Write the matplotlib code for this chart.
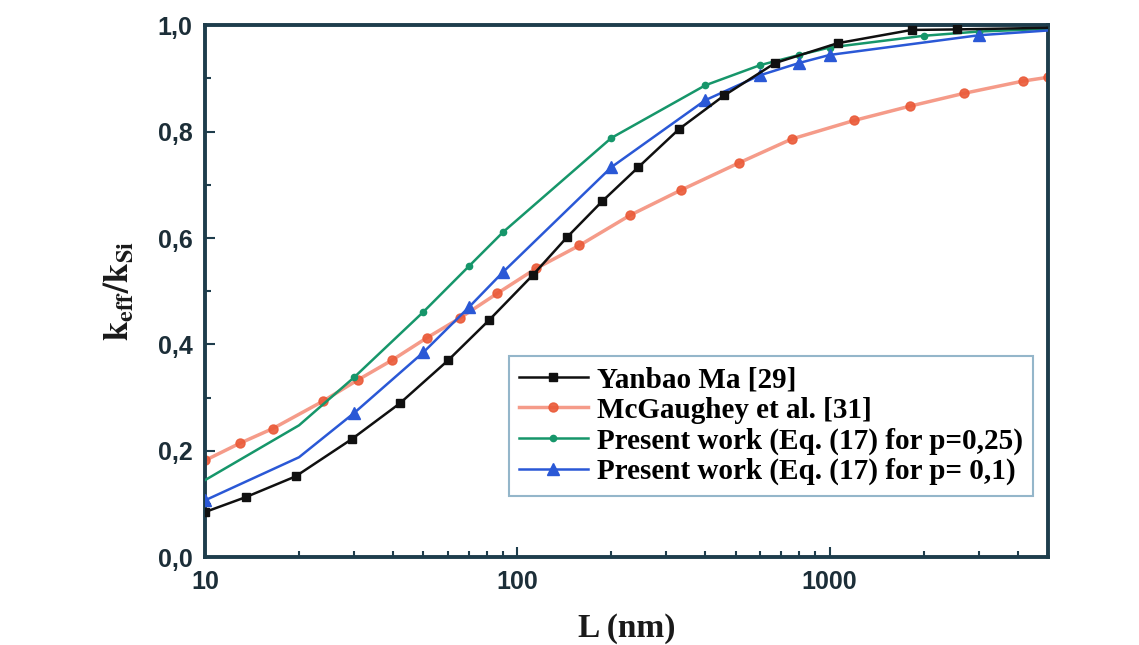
import matplotlib
matplotlib.use("Agg")
import matplotlib.pyplot as plt
from matplotlib.ticker import FixedLocator, FuncFormatter, LogLocator, MultipleLocator, NullFormatter

# thickness length L (nm) and normalised conductivity k_eff/k_Si
L_ma = [10, 13.5, 19.5, 29.5, 42, 60, 81, 112, 144, 187, 244, 330, 460, 670, 1060, 1830, 2560, 5000]
k_ma = [0.085, 0.113, 0.152, 0.222, 0.289, 0.370, 0.445, 0.530, 0.601, 0.669, 0.733, 0.805,
        0.868, 0.929, 0.966, 0.991, 0.992, 0.995]

L_mcg = [10, 12.9, 16.5, 23.8, 30.8, 39.6, 51.2, 65.3, 86.3, 115, 158, 230, 334, 512, 756,
         1200, 1815, 2700, 4170, 5000]
k_mcg = [0.182, 0.214, 0.242, 0.293, 0.333, 0.370, 0.412, 0.449, 0.496, 0.543, 0.586, 0.643,
         0.690, 0.741, 0.786, 0.821, 0.848, 0.872, 0.895, 0.902]

L_p25 = [10, 20, 30, 50, 70, 90, 200, 400, 600, 800, 1000, 2000, 3000, 5000]
k_p25 = [0.145, 0.248, 0.338, 0.461, 0.547, 0.611, 0.788, 0.887, 0.925, 0.944, 0.958, 0.980, 0.988, 0.993]

L_p01 = [10, 20, 30, 50, 70, 90, 200, 400, 600, 800, 1000, 3000, 5000]
k_p01 = [0.107, 0.188, 0.271, 0.385, 0.470, 0.536, 0.733, 0.859, 0.906, 0.929, 0.944, 0.981, 0.990]

labels = ["Yanbao Ma [29]", "McGaughey et al. [31]",
          "Present work (Eq. (17) for p=0,25)", "Present work (Eq. (17) for p= 0,1)"]

frame = "#1e3d4c"
plt.rcParams["mathtext.fontset"] = "stix"

fig = plt.figure(figsize=(11.39, 6.45), dpi=100)
ax = fig.add_axes([0.180, 0.136, 0.740, 0.825])

ax.plot(L_ma, k_ma, "-s", color="#101010", lw=1.8, ms=6, markevery=list(range(len(L_ma) - 1)),
        label=labels[0], zorder=4)
ax.plot(L_mcg, k_mcg, "-o", color="#f4907c", lw=2.5, ms=6.5, mfc="#ea5a38", mec="#ea5a38",
        alpha=0.9, label=labels[1], zorder=2)
ax.plot(L_p25, k_p25, "-o", color="#16966a", lw=1.8, ms=4.5, markevery=list(range(2, len(L_p25) - 1)),
        label=labels[2], zorder=3)
ax.plot(L_p01, k_p01, "-^", color="#2a58d6", lw=1.8, ms=8, markevery=[0] + list(range(2, len(L_p01) - 1)),
        label=labels[3], zorder=3)

ax.set_xscale("log")
ax.set_xlim(10, 5000)
ax.set_ylim(0, 1.0)

ax.xaxis.set_major_locator(FixedLocator([10, 100, 1000]))
ax.xaxis.set_major_formatter(FuncFormatter(lambda v, p: f"{v:.0f}"))
ax.xaxis.set_minor_locator(LogLocator(base=10, subs=range(2, 10)))
ax.xaxis.set_minor_formatter(NullFormatter())
ax.yaxis.set_major_locator(MultipleLocator(0.2))
ax.yaxis.set_minor_locator(MultipleLocator(0.1))
ax.yaxis.set_major_formatter(FuncFormatter(lambda v, p: f"{v:.1f}".replace(".", ",")))

ax.tick_params(which="both", direction="in", top=False, right=False, color=frame, width=1.5)
ax.tick_params(which="major", length=7, labelsize=18, labelcolor="#1c2e38", pad=9)
ax.tick_params(which="minor", length=4)
for lab in ax.get_xticklabels() + ax.get_yticklabels():
    lab.set_fontfamily("Liberation Sans")
    lab.set_fontweight("bold")

for sp in ax.spines.values():
    sp.set_color(frame)
    sp.set_linewidth(2.8)

ax.set_xlabel("L (nm)", fontfamily="Liberation Serif", fontweight="bold", fontsize=24,
              color="#1a1a1a", labelpad=14)
ax.set_ylabel(r"$\mathbf{k_{eff}/k_{Si}}$", fontsize=25, color="#1a1a1a", labelpad=16)

leg = ax.legend(loc="lower right", bbox_to_anchor=(0.982, 0.116, 0.0, 0.0), frameon=True,
                fancybox=False, handlelength=2.35, handletextpad=0.3, borderpad=0.35,
                borderaxespad=0.0, labelspacing=0.12,
                prop={"family": "Liberation Serif", "weight": "bold", "size": 21})
leg.get_frame().set_edgecolor("#7aa4bd")
leg.get_frame().set_linewidth(1.5)

fig.savefig("out.png", dpi=100)
